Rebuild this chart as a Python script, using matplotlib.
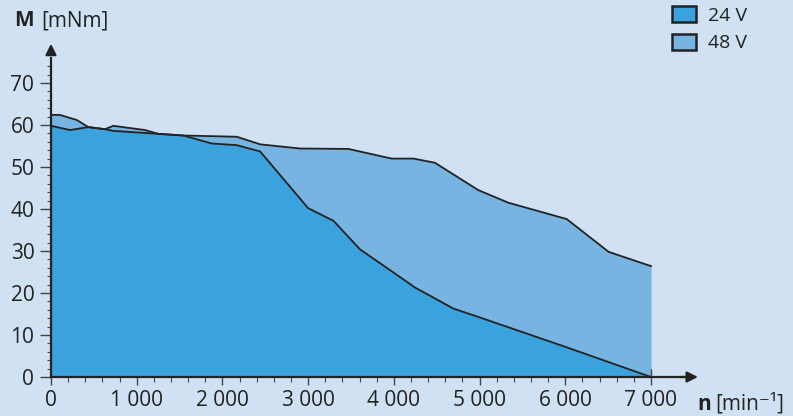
import matplotlib.pyplot as plt
from matplotlib.patches import Patch

plt.rcParams['font.family'] = ['Open Sans', 'DejaVu Sans']

# speed n [min^-1] and torque M [mNm]
n_24 = [0, 222, 435, 630, 727, 1252, 1544, 1875, 2167, 2440, 3000, 3295, 3605,
        4072, 4247, 4694, 5000, 5998, 7000]
m_24 = [59.8, 58.8, 59.5, 59.0, 58.6, 57.9, 57.5, 55.6, 55.2, 53.7, 40.2, 37.2,
        30.4, 23.8, 21.3, 16.3, 14.2, 7.2, 0.0]

n_48 = [0, 105, 300, 435, 630, 727, 1097, 1252, 1544, 2167, 2440, 2905, 3470,
        3975, 4230, 4480, 4985, 5335, 6017, 6505, 7000]
m_48 = [62.4, 62.4, 61.2, 59.5, 59.0, 59.8, 58.8, 57.9, 57.5, 57.2, 55.4, 54.4,
        54.3, 52.0, 52.0, 51.0, 44.5, 41.5, 37.6, 29.8, 26.4]

x_ticks = [0, 1000, 2000, 3000, 4000, 5000, 6000, 7000]
x_labels = ['0', '1 000', '2 000', '3 000', '4 000', '5 000', '6 000', '7 000']
y_ticks = [0, 10, 20, 30, 40, 50, 60, 70]

bg = '#cfe1f2'
c24 = '#3aa2dc'
c48 = '#77b4e2'
ink = '#222222'

W, H = 793, 416
fig = plt.figure(figsize=(W / 100, H / 100), dpi=100, facecolor=bg)
# x: 0 -> px 51, 7000 -> px 651 ; y: 0 -> px 377, 80 -> px 41
xmax, ymax = 7600, 80
ax_w = 600 * xmax / 7000
ax_h = 377 - 41
ax = fig.add_axes([51 / W, (H - 377) / H, ax_w / W, ax_h / H])
ax.set_facecolor(bg)
ax.set_xlim(0, xmax)
ax.set_ylim(0, ymax)

ax.fill_between(n_48, m_48, 0, color=c48, lw=0, zorder=1)
ax.fill_between(n_24, m_24, 0, color=c24, lw=0, zorder=2)
ax.plot(n_48, m_48, color=ink, lw=1.3, zorder=3)
ax.plot(n_24, m_24, color=ink, lw=1.3, zorder=3)

for s in ['top', 'right']:
    ax.spines[s].set_visible(False)
for s in ['left', 'bottom']:
    ax.spines[s].set_linewidth(1.6)
    ax.spines[s].set_color(ink)
    ax.spines[s].set_zorder(4)
ax.spines['bottom'].set_bounds(0, 7450)
ax.spines['left'].set_bounds(0, 76)

# arrow heads
ax.annotate('', xy=(7580, 0), xytext=(7300, 0),
            arrowprops=dict(arrowstyle='-|>', color=ink, lw=1.6, mutation_scale=16),
            annotation_clip=False, zorder=5)
ax.annotate('', xy=(0, 80), xytext=(0, 76),
            arrowprops=dict(arrowstyle='-|>', color=ink, lw=1.6, mutation_scale=16),
            annotation_clip=False, zorder=5)

ax.set_xticks(x_ticks)
ax.set_xticklabels(x_labels)
ax.set_xticks(range(0, 7001, 200), minor=True)
ax.set_yticks(y_ticks)
ax.set_yticks(range(0, 75, 2), minor=True)
ax.tick_params(axis='x', which='major', direction='inout', length=11, width=1.0,
               color='#444444', labelsize=15, labelcolor=ink, pad=4)
ax.tick_params(axis='x', which='minor', direction='out', length=3.5, width=0.8,
               color='#444444')
ax.tick_params(axis='y', which='major', direction='out', length=8, width=1.0,
               color='#444444', labelsize=15, labelcolor=ink, pad=4)
ax.tick_params(axis='y', which='minor', direction='out', length=3, width=0.8,
               color='#444444')

fig.text(14 / W, 1 - 21 / H, 'M', fontsize=15, color=ink, va='center',
         fontweight='bold')
fig.text(41 / W, 1 - 21 / H, '[mNm]', fontsize=15, color=ink, va='center')

fig.text(697 / W, 1 - 404 / H, 'n', fontsize=15, color=ink, va='center',
         fontweight='bold')
fig.text(715 / W, 1 - 404 / H, '[min⁻¹]', fontsize=15, color=ink, va='center')

handles = [Patch(facecolor=c24, edgecolor=ink, lw=1.8, label='24 V'),
           Patch(facecolor=c48, edgecolor=ink, lw=1.8, label='48 V')]
fig.legend(handles=handles, loc='upper left', bbox_to_anchor=(672 / W, 1 - 6 / H),
           frameon=False, fontsize=14, labelcolor=ink, handlelength=1.25,
           handleheight=0.9, handletextpad=0.6, labelspacing=0.45, borderpad=0,
           borderaxespad=0)

fig.savefig('out.png', dpi=100, facecolor=bg)
